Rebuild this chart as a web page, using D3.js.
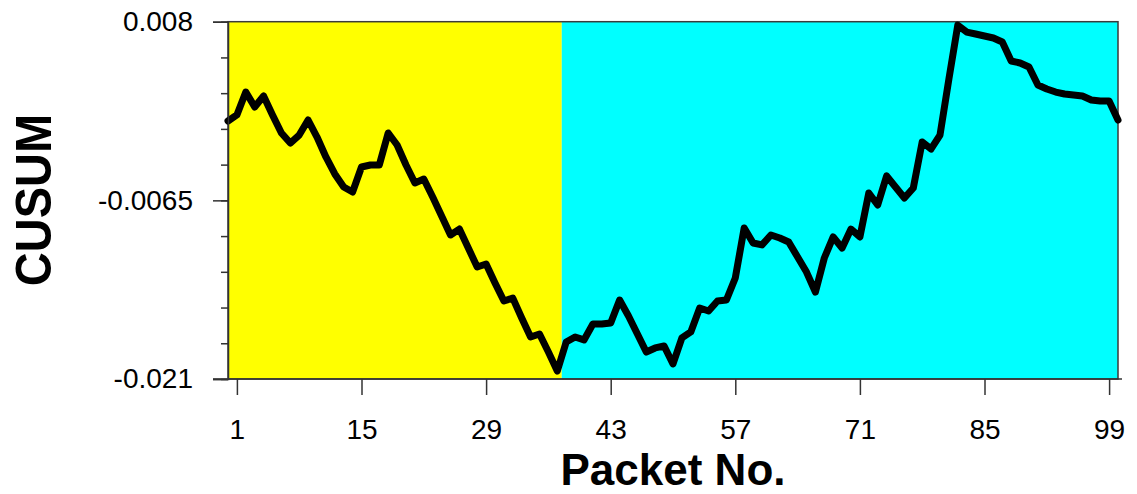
<!DOCTYPE html>
<html>
<head>
<meta charset="utf-8">
<script src="https://cdn.jsdelivr.net/npm/d3@7"></script>
<style>
  html, body { margin: 0; padding: 0; background: #ffffff; }
  svg { display: block; font-family: "Liberation Sans", Arial, sans-serif; }
</style>
</head>
<body>
<svg id="chart" width="1137" height="494"></svg>
<script>
// CUSUM value for each packet, packet 0 .. 100
const cusum = [
  -0.00006, 0.00043, 0.00229, 0.00108, 0.00197, 0.00043, -0.00103, -0.00185, -0.00120, 0.00002,
  -0.00136, -0.00298, -0.00436, -0.00542, -0.00582, -0.00379, -0.00363, -0.00363, -0.00103, -0.00201,
  -0.00363, -0.00509, -0.00477, -0.00623, -0.00777, -0.00931, -0.00883, -0.01037, -0.01191, -0.01167,
  -0.01321, -0.01467, -0.01443, -0.01605, -0.01759, -0.01735, -0.01881, -0.02035, -0.01800, -0.01759,
  -0.01783, -0.01654, -0.01654, -0.01645, -0.01459, -0.01589, -0.01735, -0.01881, -0.01848, -0.01832,
  -0.01978, -0.01767, -0.01718, -0.01524, -0.01548, -0.01467, -0.01459, -0.01280, -0.00874, -0.00996,
  -0.01012, -0.00931, -0.00956, -0.00988, -0.01110, -0.01232, -0.01394, -0.01118, -0.00947, -0.01037,
  -0.00883, -0.00947, -0.00590, -0.00688, -0.00452, -0.00542, -0.00631, -0.00550, -0.00176, -0.00233,
  -0.00120, 0.00335, 0.00772, 0.00716, 0.00700, 0.00684, 0.00668, 0.00635, 0.00481, 0.00465,
  0.00432, 0.00286, 0.00254, 0.00229, 0.00213, 0.00205, 0.00197, 0.00165, 0.00156, 0.00156,
  0.00002
];
const packets = d3.range(0, cusum.length);

// Packet ranges of the two phases (before / after the change point)
const phaseBounds = [0, 37.5, 100];

// Axis ticks
const xTickLabels = [1, 15, 29, 43, 57, 71, 85, 99];
const yMajorTicks = [0.008, -0.0065, -0.021];
const yTickLabels = ["0.008", "-0.0065", "-0.021"];
const yMinorStep = 0.0029;

const phaseColors = ["#ffff00", "#00ffff"];

const svg = d3.select("#chart");
const plotLeft = 228, plotRight = 1118, plotTop = 21.7, plotBottom = 379;

const x = d3.scaleLinear().domain([0, 100]).range([plotLeft, plotRight]);
const y = d3.scaleLinear().domain([-0.021, 0.008]).range([plotBottom, plotTop]);

// Phase backgrounds
svg.append("g").selectAll("rect")
  .data(d3.pairs(phaseBounds))
  .join("rect")
  .attr("x", d => x(d[0]))
  .attr("width", d => x(d[1]) - x(d[0]))
  .attr("y", plotTop)
  .attr("height", plotBottom - plotTop)
  .attr("fill", (d, i) => phaseColors[i]);

// Frame
svg.append("rect")
  .attr("x", plotLeft).attr("y", plotTop)
  .attr("width", plotRight - plotLeft).attr("height", plotBottom - plotTop)
  .attr("fill", "none").attr("stroke", "#3a3a3a").attr("stroke-width", 1.5);

// CUSUM trace
const line = d3.line()
  .x((d, i) => x(packets[i]))
  .y(d => y(d));
svg.append("path")
  .datum(cusum)
  .attr("d", line)
  .attr("fill", "none")
  .attr("stroke", "#000")
  .attr("stroke-width", 7)
  .attr("stroke-linejoin", "round")
  .attr("stroke-linecap", "round");

// Y axis: minor ticks
const yMinor = d3.range(0, 11).map(i => -0.021 + i * yMinorStep);
const yAxisMinor = d3.axisLeft(y).tickValues(yMinor).tickSize(7).tickFormat("");
const gyMinor = svg.append("g").attr("transform", `translate(${plotLeft},0)`).call(yAxisMinor);
gyMinor.select(".domain").remove();
gyMinor.selectAll(".tick line").attr("stroke", "#333").attr("stroke-width", 1.5);

// Y axis: major ticks with labels
const yAxis = d3.axisLeft(y).tickValues(yMajorTicks).tickSize(15).tickPadding(20)
  .tickFormat((d, i) => yTickLabels[i]);
const gy = svg.append("g").attr("transform", `translate(${plotLeft},0)`).call(yAxis);
gy.select(".domain").attr("stroke", "#333").attr("stroke-width", 1.5);
gy.selectAll(".tick line").attr("stroke", "#333").attr("stroke-width", 1.5);
gy.selectAll(".tick text").attr("font-size", 28).attr("fill", "#000")
  .attr("font-family", "'Liberation Sans', Arial, sans-serif");

// X axis
const xAxis = d3.axisBottom(x).tickValues(xTickLabels).tickSize(16).tickPadding(24)
  .tickFormat(d3.format("d"));
const gx = svg.append("g").attr("transform", `translate(0,${plotBottom})`).call(xAxis);
gx.select(".domain").attr("d", `M${plotLeft - 15},0H${plotRight + 4}`).attr("stroke", "#333").attr("stroke-width", 1.5);
gx.selectAll(".tick line").attr("stroke", "#333").attr("stroke-width", 1.5);
gx.selectAll(".tick text").attr("font-size", 28).attr("fill", "#000")
  .attr("font-family", "'Liberation Sans', Arial, sans-serif");

// Axis titles
svg.append("text")
  .attr("x", (plotLeft + plotRight) / 2)
  .attr("y", 485)
  .attr("text-anchor", "middle")
  .attr("font-size", 44).attr("font-weight", "bold")
  .text("Packet No.");

svg.append("text")
  .attr("transform", `translate(51,200) rotate(-90) scale(1,1.08)`)
  .attr("text-anchor", "middle")
  .attr("font-size", 47).attr("font-weight", "bold")
  .text("CUSUM");
</script>
</body>
</html>
